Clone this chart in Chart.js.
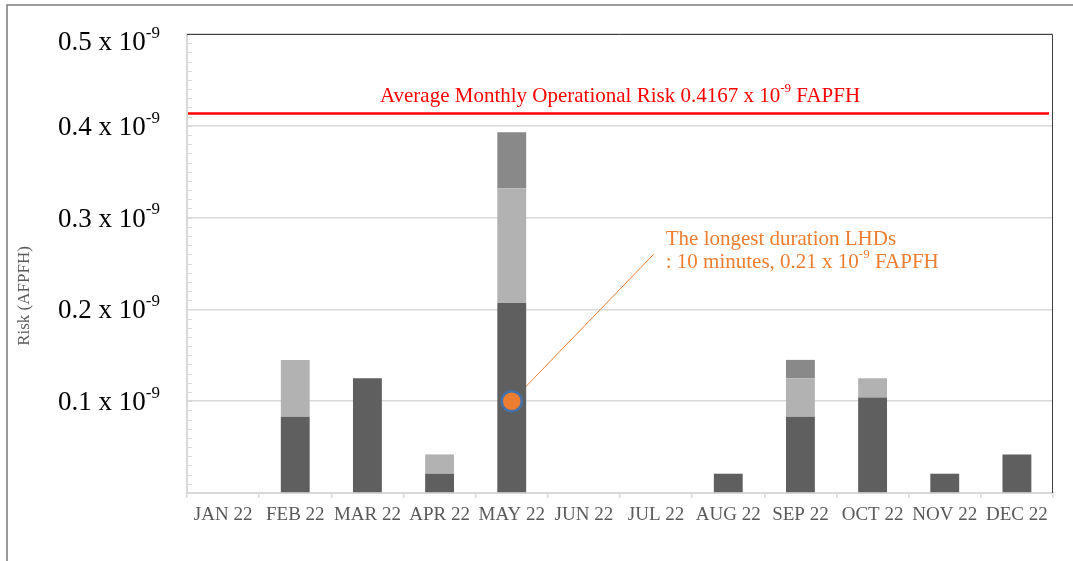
<!DOCTYPE html>
<html>
<head>
<meta charset="utf-8">
<script src="https://cdn.jsdelivr.net/npm/chart.js@4.4.1/dist/chart.umd.min.js"></script>
<style>
  html, body { margin: 0; padding: 0; background: #ffffff; }
  #wrap { width: 1073px; height: 561px; position: relative; }
</style>
</head>
<body>
<div id="wrap"><canvas id="c" width="1073" height="561"></canvas></div>
<script>
// ---- data ----
const categories = ['JAN 22', 'FEB 22', 'MAR 22', 'APR 22', 'MAY 22', 'JUN 22', 'JUL 22', 'AUG 22', 'SEP 22', 'OCT 22', 'NOV 22', 'DEC 22'];
const seriesDark  = [0, 0.083, 0.125, 0.021, 0.207, 0, 0, 0.021, 0.083, 0.104, 0.021, 0.042];
const seriesLight = [0, 0.062, 0,     0.021, 0.125, 0, 0, 0,     0.042, 0.021, 0,     0];
const seriesMid   = [0, 0,     0,     0,     0.061, 0, 0, 0,     0.020, 0,     0,     0];
const highlightPoint = [null, null, null, null, 0.1, null, null, null, null, null, null, null];
const averageRisk = [0.4135];
const yTickValues = [0.1, 0.2, 0.3, 0.4, 0.5];
const yTickLabels = ['0.1 x 10', '0.2 x 10', '0.3 x 10', '0.4 x 10', '0.5 x 10'];
const yTickExponent = '-9';
const averageLabel = [['Average Monthly Operational Risk 0.4167 x 10', false], ['-9', true], [' FAPFH', false]];
const noteLine1 = 'The longest duration LHDs';
const noteLine2 = [[': 10 minutes, 0.21 x 10', false], ['-9', true], [' FAPFH', false]];
const yTitle = 'Risk (AFPFH)';

const SERIF = '"Liberation Serif", "Times New Roman", serif';

function drawRich(ctx, segs, x, y, align, size, color) {
  const supSize = Math.round(size * 0.62);
  let total = 0;
  const widths = segs.map(([t, sup]) => {
    ctx.font = (sup ? supSize : size) + 'px ' + SERIF;
    const w = ctx.measureText(t).width;
    total += w;
    return w;
  });
  let cx = align === 'right' ? x - total : align === 'center' ? x - total / 2 : x;
  ctx.fillStyle = color;
  ctx.textBaseline = 'middle';
  ctx.textAlign = 'left';
  segs.forEach(([t, sup], i) => {
    ctx.font = (sup ? supSize : size) + 'px ' + SERIF;
    ctx.fillText(t, cx, sup ? y - size * 0.36 : y);
    cx += widths[i];
  });
}

const decor = {
  id: 'decor',
  beforeDraw(chart) {
    const ctx = chart.ctx;
    ctx.save();
    ctx.fillStyle = '#ffffff';
    ctx.fillRect(0, 0, chart.width, chart.height);
    // outer frame
    ctx.strokeStyle = '#7a7a7a';
    ctx.lineWidth = 1.5;
    ctx.beginPath();
    ctx.moveTo(7, chart.height);
    ctx.lineTo(7, 5);
    ctx.lineTo(chart.width, 5);
    ctx.stroke();
    ctx.restore();
  },
  beforeDatasetsDraw(chart) {
    const ctx = chart.ctx;
    const a = chart.chartArea;
    const y = chart.scales.y;
    ctx.save();
    // minor ticks
    ctx.strokeStyle = '#d9d9d9';
    ctx.lineWidth = 1;
    for (let k = 1; k < 50; k++) {
      const py = Math.round(y.getPixelForValue(k / 100)) + 0.5;
      ctx.beginPath();
      ctx.moveTo(a.left, py);
      ctx.lineTo(a.left + 5, py);
      ctx.stroke();
    }
    // plot border top / right
    ctx.strokeStyle = '#404040';
    ctx.lineWidth = 1;
    ctx.beginPath();
    ctx.moveTo(a.left, a.top + 0.5);
    ctx.lineTo(a.right - 0.5, a.top + 0.5);
    ctx.lineTo(a.right - 0.5, a.bottom);
    ctx.stroke();
    // y tick labels
    yTickValues.forEach((v, i) => {
      const py = Math.max(y.getPixelForValue(v) + 2, a.top + 9);
      drawRich(ctx, [[yTickLabels[i], false], [yTickExponent, true]], 160, py, 'right', 27, '#000000');
    });
    // y title
    ctx.translate(25, 296);
    ctx.rotate(-Math.PI / 2);
    ctx.font = '17px ' + SERIF;
    ctx.fillStyle = '#595959';
    ctx.textAlign = 'center';
    ctx.textBaseline = 'middle';
    ctx.fillText(yTitle, 0, 0);
    ctx.restore();

    // annotation leader line (under the point)
    const pm = chart.getDatasetMeta(0).data[4];
    if (pm) {
      ctx.save();
      ctx.strokeStyle = '#ED7D31';
      ctx.lineWidth = 1;
      ctx.beginPath();
      ctx.moveTo(pm.x, pm.y);
      ctx.lineTo(pm.x + 142, pm.y - 147);
      ctx.stroke();
      ctx.restore();
    }
  },
  afterDatasetsDraw(chart) {
    const ctx = chart.ctx;
    const a = chart.chartArea;
    const y = chart.scales.y;
    ctx.save();
    const ly = y.getPixelForValue(averageRisk[0]);
    ctx.strokeStyle = '#ff0000';
    ctx.lineWidth = 2.5;
    ctx.beginPath();
    ctx.moveTo(a.left + 1, ly);
    ctx.lineTo(a.right - 4, ly);
    ctx.stroke();
    drawRich(ctx, averageLabel, (a.left + a.right) / 2, ly - 17, 'center', 21, '#ff0000');

    const pm = chart.getDatasetMeta(0).data[4];
    if (pm) {
      drawRich(ctx, [[noteLine1, false]], pm.x + 154, pm.y - 162, 'left', 21, '#ED7D31');
      drawRich(ctx, noteLine2, pm.x + 154, pm.y - 139, 'left', 21, '#ED7D31');
    }
    ctx.restore();
  }
};

new Chart(document.getElementById('c'), {
  data: {
    labels: categories,
    datasets: [
      { type: 'line', data: highlightPoint, showLine: false, stack: 'pt', order: 0,
        pointRadius: 10, pointBackgroundColor: '#ED7D31', pointBorderColor: '#4472A8', pointBorderWidth: 2.5 },
      { type: 'bar', data: seriesDark, backgroundColor: '#5f5f5f', stack: 's', order: 1 },
      { type: 'bar', data: seriesLight, backgroundColor: '#b2b2b2', stack: 's', order: 1 },
      { type: 'bar', data: seriesMid, backgroundColor: '#898989', stack: 's', order: 1 }
    ]
  },
  options: {
    responsive: false,
    animation: false,
    events: [],
    layout: { padding: { left: 0, top: 34, right: 20, bottom: 0 } },
    datasets: { bar: { categoryPercentage: 1, barPercentage: 0.4, borderWidth: 0 } },
    plugins: { legend: { display: false }, tooltip: { enabled: false } },
    scales: {
      x: {
        stacked: true,
        offset: true,
        grid: { offset: true, drawOnChartArea: false, drawTicks: true, tickLength: 5, color: '#d9d9d9', lineWidth: 1.5 },
        border: { color: '#d9d9d9', width: 2 },
        ticks: { font: { family: SERIF, size: 19 }, color: '#595959', padding: 6, maxRotation: 0, autoSkip: false },
        afterFit(s) { s.height = 68; }
      },
      y: {
        stacked: true,
        min: 0, max: 0.5,
        ticks: { stepSize: 0.1, display: false },
        grid: { color: '#d9d9d9', lineWidth: 1.5, drawTicks: false },
        border: { color: '#d9d9d9', width: 2 },
        afterFit(s) { s.width = 187; }
      }
    }
  },
  plugins: [decor]
});
</script>
</body>
</html>
